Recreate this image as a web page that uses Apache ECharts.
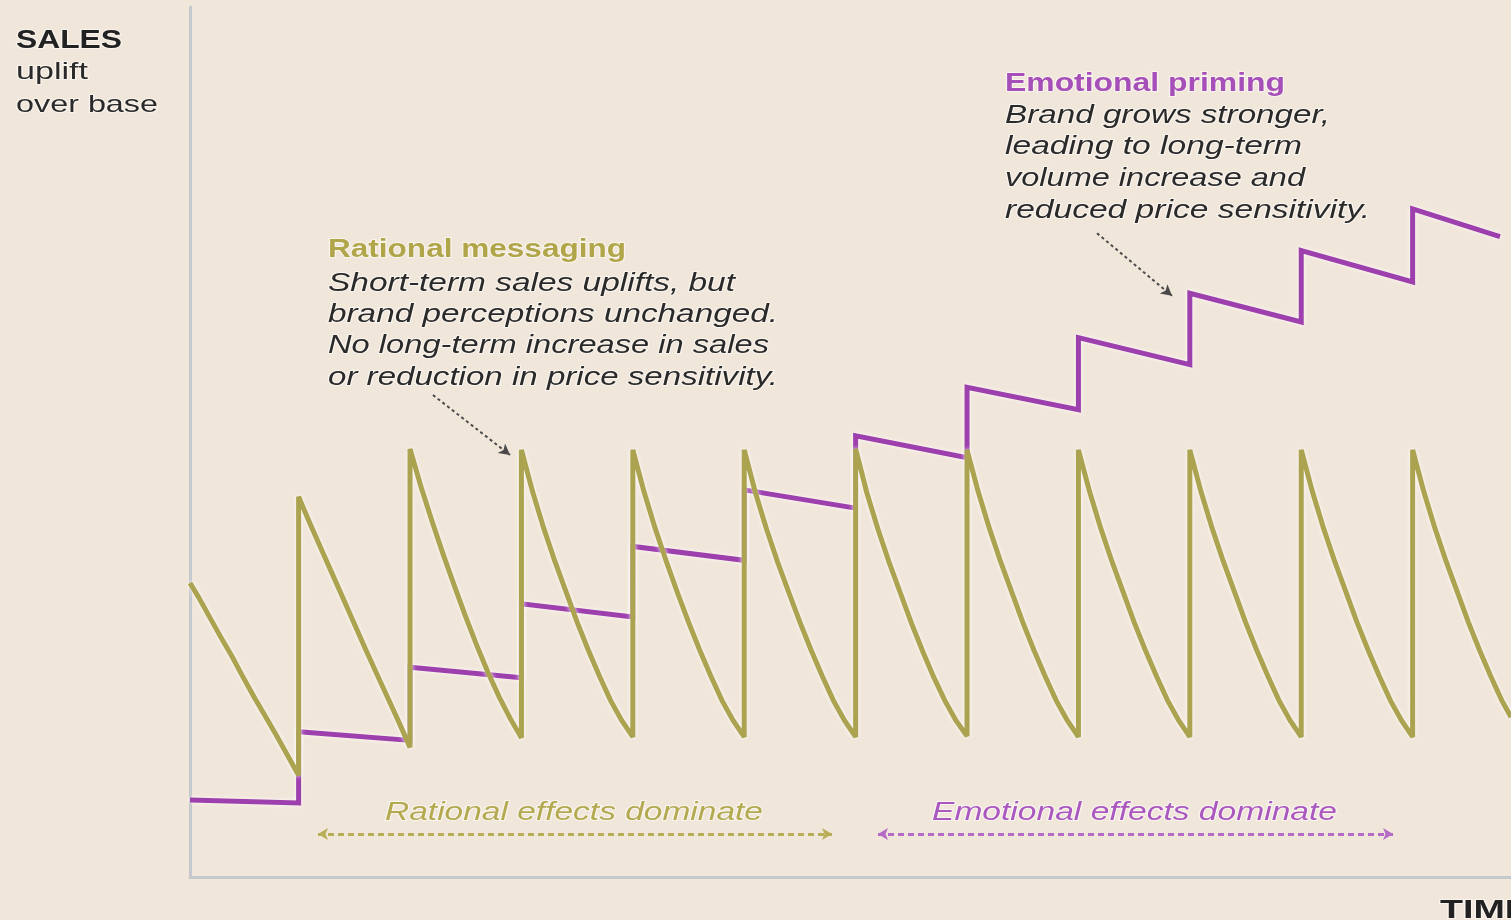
<!DOCTYPE html>
<html>
<head>
<meta charset="utf-8">
<title>Sales uplift over time</title>
<script src="https://cdn.jsdelivr.net/npm/echarts@6/dist/echarts.min.js"></script>
<style>
  html, body { margin: 0; padding: 0; background: #f1e6da; }
  #chart { width: 1511px; height: 920px; }
</style>
</head>
<body>
<div id="chart"></div>
<script>
// ---- data -------------------------------------------------------------
// time runs in campaign bursts: one burst per unit of time
const burstTimes = [1, 2, 3, 4, 5, 6, 7, 8, 9, 10, 11];
const timeMin = 0.025;
const timeMax = 11.883;

// rational messaging: short-term uplift that decays back after every burst
const leadTimes  = [0.025, 0.1, 0.2, 0.3, 0.4, 0.5, 0.6, 0.7, 0.8, 0.9, 1.0];
const leadValues = [33.8, 32.2, 29.9, 27.6, 25.4, 23.0, 20.7, 18.5, 16.3, 14.0, 11.7];
const decayOffsets = [0, 0.1, 0.2, 0.3, 0.4, 0.5, 0.6, 0.7, 0.8, 0.9, 1.0];
const tailOffsets  = [0, 0.1, 0.2, 0.3, 0.4, 0.5, 0.6, 0.7, 0.8, 0.883];
const burstDecay = [
  [43.7, 40.7, 37.8, 34.9, 32.0, 29.1, 26.2, 23.4, 20.6, 17.8, 14.9],
  [49.2, 44.8, 40.8, 37.0, 33.4, 29.9, 26.6, 23.5, 20.7, 18.2, 16.0],
  [49.1, 44.3, 40.1, 36.3, 32.8, 29.3, 26.1, 23.1, 20.3, 18.0, 16.1],
  [49.1, 44.3, 40.1, 36.3, 32.7, 29.3, 26.1, 23.1, 20.3, 18.0, 16.1],
  [49.1, 44.2, 40.0, 36.2, 32.7, 29.3, 26.1, 23.1, 20.3, 18.0, 16.1],
  [49.2, 44.2, 40.0, 36.2, 32.7, 29.2, 26.0, 23.0, 20.3, 18.0, 16.2],
  [49.1, 44.3, 40.1, 36.3, 32.8, 29.3, 26.1, 23.1, 20.3, 18.0, 16.1],
  [49.1, 44.3, 40.1, 36.3, 32.8, 29.3, 26.1, 23.1, 20.3, 18.0, 16.1],
  [49.1, 44.3, 40.1, 36.3, 32.8, 29.3, 26.1, 23.1, 20.3, 18.0, 16.1],
  [49.1, 44.3, 40.1, 36.3, 32.8, 29.3, 26.1, 23.1, 20.3, 18.0, 16.1],
  [49.1, 44.3, 40.1, 36.3, 32.8, 29.3, 26.1, 23.1, 20.3, 18.4]
];

// emotional priming: base level steps up with each burst and erodes slowly
const emotionalStart = [8.85, 16.7, 24.1, 31.4, 38.0, 44.5, 50.7, 56.3, 62.0, 67.1, 72.0, 76.8];
const emotionalEnd   = [8.5, 15.7, 22.9, 29.9, 36.4, 42.4, 48.2, 53.7, 58.9, 63.8, 68.4, 73.6];
const emotionalEndTime = 11.784;

// annotation arrows, in [time, uplift]
const rationalPointer  = [[2.206, 55.4], [2.898, 48.5]];
const emotionalPointer = [[8.167, 74.0], [8.84, 66.8]];
const rationalSpan  = [[1.174, 4.94], [5.788, 4.94]];
const emotionalSpan = [[6.201, 4.94], [10.824, 4.94]];

// ---- series construction -----------------------------------------------
const rationalPoints = leadTimes.map((t, i) => [t, leadValues[i]]);
burstTimes.forEach((bt, k) => {
  const offs = k === burstTimes.length - 1 ? tailOffsets : decayOffsets;
  burstDecay[k].forEach((v, j) => rationalPoints.push([bt + offs[j], v]));
});

const emotionalPoints = [];
emotionalStart.forEach((v, i) => {
  const t0 = i === 0 ? timeMin : burstTimes[i - 1];
  const t1 = i < burstTimes.length ? burstTimes[i] : emotionalEndTime;
  emotionalPoints.push([t0, v], [t1, emotionalEnd[i]]);
});

// ---- colours & type ------------------------------------------------------
const OLIVE = '#aba34f';
const PURPLE = '#9d40ae';
const INK = '#2a2a2a';
const FACE = 'Liberation Sans, Arial, sans-serif';

// widen each line of lettering to the measure it is set in
const measureCtx = document.createElement('canvas').getContext('2d');
function widthScale(text, font, width) {
  measureCtx.font = font;
  return width / measureCtx.measureText(text).width;
}

function textLine(text, x, baseline, width, weight, style, size, color, align) {
  const font = style + ' ' + weight + ' ' + size + 'px ' + FACE;
  const sx = widthScale(text, font, width);
  return {
    type: 'text',
    x: x,
    y: baseline - size * 0.22,
    scaleX: sx,
    silent: true,
    style: {
      text: text,
      fill: color,
      font: font,
      align: align || 'left',
      verticalAlign: 'middle',
      stroke: 'rgba(255,255,255,0.55)',
      lineWidth: 2
    },
    z: 100
  };
}

const axisLabelLines = [
  textLine('SALES', 16, 47, 106, 'bold', 'normal', 25, '#222', 'left'),
  textLine('uplift', 16, 78, 72, 'normal', 'normal', 24, INK, 'left'),
  textLine('over base', 16, 111, 142, 'normal', 'normal', 24, INK, 'left'),
  textLine('TIME', 1440, 917, 90, 'bold', 'normal', 25, '#222', 'left')
];

const rationalNote = [
  textLine('Rational messaging', 328, 256, 298, 'bold', 'normal', 25, '#b0a548', 'left'),
  textLine('Short-term sales uplifts, but', 328, 290, 407, 'normal', 'italic', 25, INK, 'left'),
  textLine('brand perceptions unchanged.', 328, 321, 450, 'normal', 'italic', 25, INK, 'left'),
  textLine('No long-term increase in sales', 328, 352, 441, 'normal', 'italic', 25, INK, 'left'),
  textLine('or reduction in price sensitivity.', 328, 384, 450, 'normal', 'italic', 25, INK, 'left')
];

const emotionalNote = [
  textLine('Emotional priming', 1005, 90, 280, 'bold', 'normal', 25, '#a64fb8', 'left'),
  textLine('Brand grows stronger,', 1005, 122, 325, 'normal', 'italic', 25, INK, 'left'),
  textLine('leading to long-term', 1005, 153, 297, 'normal', 'italic', 25, INK, 'left'),
  textLine('volume increase and', 1005, 185, 300, 'normal', 'italic', 25, INK, 'left'),
  textLine('reduced price sensitivity.', 1005, 217, 365, 'normal', 'italic', 25, INK, 'left')
];

const spanLabels = [
  textLine('Rational effects dominate', 574, 819, 378, 'normal', 'italic', 25, '#b3a94f', 'center'),
  textLine('Emotional effects dominate', 1134.5, 819, 405, 'normal', 'italic', 25, '#aa58bf', 'center')
];

function arrowLine(coords, color, width, dash, startSymbol, size) {
  return [
    { coord: coords[0], symbol: startSymbol, symbolSize: size,
      lineStyle: { color: color, width: width, type: dash }, itemStyle: { color: color } },
    { coord: coords[1], symbol: 'arrow', symbolSize: size, itemStyle: { color: color } }
  ];
}

const glow = { shadowColor: 'rgba(255,255,255,0.9)', shadowBlur: 4 };

const chart = echarts.init(document.getElementById('chart'));
chart.setOption({
  backgroundColor: '#f1e6da',
  animation: false,
  grid: { left: 190, right: 0, top: 7, bottom: 43, containLabel: false },
  xAxis: {
    type: 'value', min: timeMin, max: timeMax,
    axisLine: { show: true, onZero: false, lineStyle: { color: '#c5c8cc', width: 3, cap: 'round' } },
    axisTick: { show: false }, axisLabel: { show: false }, splitLine: { show: false }
  },
  yAxis: {
    type: 'value', min: 0, max: 100,
    axisLine: { show: true, onZero: false, lineStyle: { color: '#c5c8cc', width: 3, cap: 'round' } },
    axisTick: { show: false }, axisLabel: { show: false }, splitLine: { show: false }
  },
  series: [
    {
      name: 'Emotional priming',
      type: 'line',
      data: emotionalPoints,
      showSymbol: false,
      silent: true,
      z: 3,
      lineStyle: Object.assign({ color: PURPLE, width: 5, join: 'miter', miterLimit: 4 }, glow),
      markLine: {
        silent: true, animation: false,
        label: { show: false },
        data: [
          arrowLine(emotionalPointer, '#4a4a4a', 2, [3, 3], 'none', [9, 11]),
          arrowLine(emotionalSpan, '#b46ac6', 3, [6, 4], 'arrow', [9, 10])
        ]
      }
    },
    {
      name: 'Rational messaging',
      type: 'line',
      data: rationalPoints,
      showSymbol: false,
      silent: true,
      z: 4,
      lineStyle: Object.assign({ color: OLIVE, width: 5, join: 'miter', miterLimit: 3 }, glow),
      markLine: {
        silent: true, animation: false,
        label: { show: false },
        data: [
          arrowLine(rationalPointer, '#4a4a4a', 2, [3, 3], 'none', [9, 11]),
          arrowLine(rationalSpan, '#b9ae58', 3, [6, 4], 'arrow', [9, 10])
        ]
      }
    }
  ],
  graphic: [].concat(axisLabelLines, rationalNote, emotionalNote, spanLabels)
});
</script>
</body>
</html>
